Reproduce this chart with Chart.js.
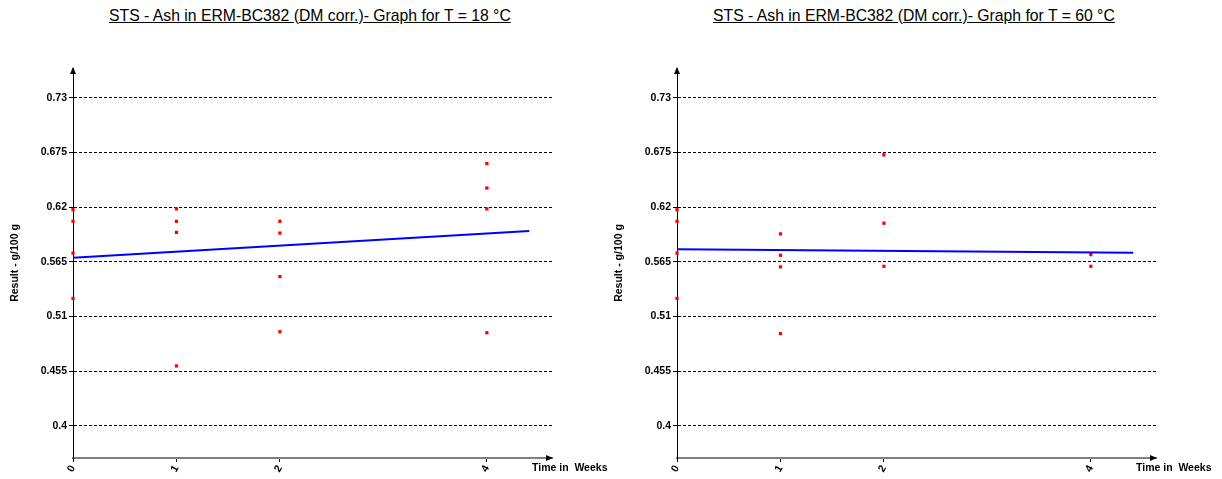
<!DOCTYPE html>
<html>
<head>
<meta charset="utf-8">
<script src="https://cdn.jsdelivr.net/npm/chart.js@4/dist/chart.umd.min.js"></script>
<style>
  body { margin: 0; background: #fff; width: 1222px; height: 479px; position: relative; overflow: hidden;
         font-family: "Liberation Sans", Arial, sans-serif; }
  .title { position: absolute; top: 8px; font-size: 15.75px; line-height: 16px; text-decoration: underline; white-space: nowrap; color: #000; }
  .box { position: absolute; top: 0; width: 618px; height: 479px; }
</style>
</head>
<body>
<div class="title" style="left:109px">STS - Ash in ERM-BC382 (DM corr.)- Graph for T = 18 °C</div>
<div class="title" style="left:713px">STS - Ash in ERM-BC382 (DM corr.)- Graph for T = 60 °C</div>
<div class="box" style="left:0"><canvas id="c18" width="618" height="479"></canvas></div>
<div class="box" style="left:604px"><canvas id="c60" width="618" height="479"></canvas></div>

<script>
// ---- data ----
const weeks = [0, 1, 2, 4]
const yTicks = [0.4, 0.455, 0.51, 0.565, 0.62, 0.675, 0.73]

// results per week (g/100 g)
const results18 = [
  [0.6176, 0.6058, 0.5738, 0.5283],
  [0.6183, 0.6058, 0.5947, 0.4604],
  [0.6058, 0.5940, 0.5502, 0.4948],
  [0.6639, 0.6393, 0.6183, 0.4938]
]
const results60 = [
  [0.6176, 0.6058, 0.5738, 0.5283],
  [0.5932, 0.5717, 0.5600, 0.4929],
  [0.6727, 0.6039, 0.5606],
  [0.5724, 0.5606]
]

// regression line ends [week, value]
const trend18 = [[0, 0.5693], [4.41, 0.5962]]
const trend60 = [[0, 0.5777], [4.41, 0.5742]]

const xMax = 4.63
const yMin = 0.3678
const yMax = 0.76

const FONT = '"Liberation Sans", Arial, sans-serif'

// arrows + "Time in Weeks" label
const axisDecor = {
  id: 'axisDecor',
  afterDraw(chart) {
    const { ctx, chartArea: a } = chart
    ctx.save()
    ctx.fillStyle = '#000'
    // y arrow
    ctx.beginPath()
    ctx.moveTo(a.left, a.top - 1)
    ctx.lineTo(a.left - 3, a.top + 6)
    ctx.lineTo(a.left + 3, a.top + 6)
    ctx.closePath()
    ctx.fill()
    // x arrow
    ctx.beginPath()
    ctx.moveTo(a.right + 1, a.bottom)
    ctx.lineTo(a.right - 6, a.bottom - 3)
    ctx.lineTo(a.right - 6, a.bottom + 3)
    ctx.closePath()
    ctx.fill()
    ctx.font = 'bold 10.5px ' + FONT
    ctx.textAlign = 'left'
    ctx.textBaseline = 'middle'
    ctx.fillText('Time in  Weeks', a.right - 20, a.bottom + 10)
    ctx.restore()
  }
}

function makeChart(id, results, trend) {
  const points = weeks.flatMap((w, i) => results[i].map(v => ({ x: w, y: v })))
  const line = trend.map(p => ({ x: p[0], y: p[1] }))

  return new Chart(document.getElementById(id), {
    type: 'scatter',
    data: {
      datasets: [
        {
          data: line,
          showLine: true,
          borderColor: '#0000ff',
          borderWidth: 2,
          pointRadius: 0,
          clip: false
        },
        {
          data: points,
          pointStyle: 'rect',
          pointRadius: 2.3,
          pointBorderWidth: 0,
          backgroundColor: '#ff0000',
          borderColor: '#ff0000',
          clip: false
        }
      ]
    },
    options: {
      responsive: false,
      animation: false,
      layout: { padding: { left: 0, right: 66, top: 68, bottom: 0 } },
      plugins: { legend: { display: false }, tooltip: { enabled: false } },
      scales: {
        x: {
          type: 'linear',
          min: 0,
          max: xMax,
          afterBuildTicks: s => { s.ticks = weeks.map(v => ({ value: v })) },
          afterFit: s => { s.height = 21 },
          ticks: {
            color: '#000',
            font: { family: FONT, size: 10.5, weight: 'bold' },
            minRotation: 60,
            maxRotation: 60,
            padding: 1,
            callback: v => String(v)
          },
          grid: { drawOnChartArea: false, drawTicks: true, tickLength: 4, color: '#000' },
          border: { display: true, color: '#808080', width: 2 }
        },
        y: {
          type: 'linear',
          min: yMin,
          max: yMax,
          afterBuildTicks: s => { s.ticks = yTicks.map(v => ({ value: v })) },
          afterFit: s => { s.width = 73 },
          ticks: {
            color: '#000',
            font: { family: FONT, size: 10.5, weight: 'bold' },
            padding: 2,
            callback: v => String(v)
          },
          grid: { color: '#000', lineWidth: 1, tickLength: 4, tickColor: '#000' },
          border: { display: true, color: '#000', width: 1, dash: [3, 2] },
          title: {
            display: true,
            text: 'Result - g/100 g',
            color: '#000',
            font: { family: FONT, size: 10.5, weight: 'bold' },
            padding: { top: 9, bottom: 0 }
          }
        }
      }
    },
    plugins: [axisDecor]
  })
}

makeChart('c18', results18, trend18)
makeChart('c60', results60, trend60)
</script>
</body>
</html>
